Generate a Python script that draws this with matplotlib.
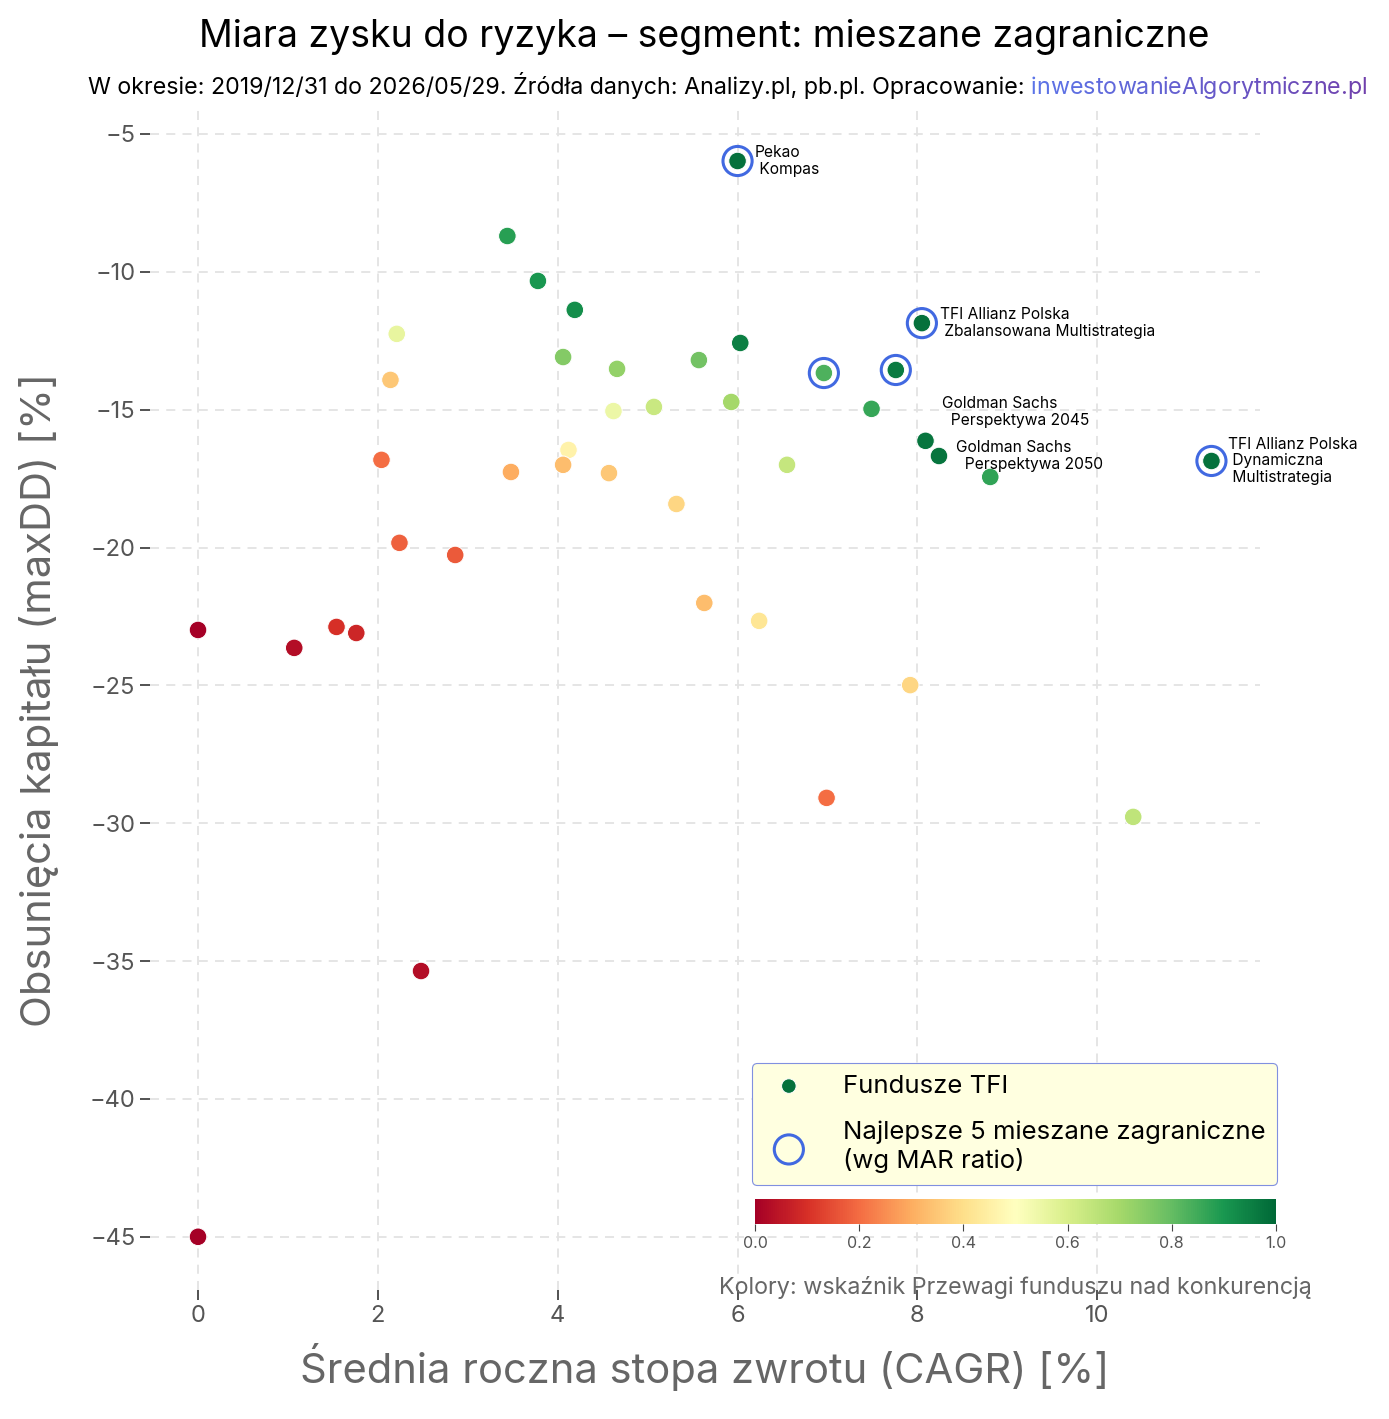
import numpy as np
import matplotlib
matplotlib.use("Agg")
import matplotlib.pyplot as plt
from matplotlib.colors import to_rgb

plt.rcParams['font.family'] = ['Inter', 'DejaVu Sans']

# CAGR [%], maxDD [%], wskaznik przewagi (0..1)
cagr = [6.00, 3.44, 3.78, 4.19, 2.21, 4.06, 4.66, 5.57, 6.03, 8.05,
        6.96, 7.76, 2.14, 4.62, 5.07, 5.93, 7.49, 8.09, 8.24, 8.81,
        11.27, 2.04, 4.12, 3.48, 4.06, 4.57, 5.32, 6.55, 2.24, 2.86,
        0.00, 1.07, 1.54, 1.76, 5.63, 6.24, 7.92, 6.99, 10.40, 2.48,
        0.00]
maxdd = [-5.98, -8.70, -10.33, -11.38, -12.25, -13.09, -13.52, -13.20, -12.58, -11.86,
         -13.67, -13.56, -13.92, -15.05, -14.90, -14.72, -14.97, -16.13, -16.68, -17.44,
         -16.86, -16.82, -16.46, -17.26, -17.00, -17.30, -18.42, -17.00, -19.83, -20.27,
         -22.99, -23.64, -22.88, -23.10, -22.01, -22.66, -24.99, -29.08, -29.77, -35.36,
         -45.00]
score = [0.98, 0.88, 0.90, 0.92, 0.56, 0.75, 0.73, 0.78, 0.95, 0.98,
         0.83, 0.96, 0.35, 0.55, 0.63, 0.70, 0.86, 0.97, 0.97, 0.87,
         0.98, 0.20, 0.46, 0.30, 0.33, 0.35, 0.38, 0.64, 0.18, 0.17,
         0.00, 0.03, 0.10, 0.08, 0.33, 0.42, 0.38, 0.20, 0.65, 0.03,
         0.00]
top5 = [0, 9, 10, 11, 20]

# opisy wybranych funduszy: indeks, tekst, przesuniecie (px)
labels = [
    (0, "Pekao\n Kompas", (17, 0)),
    (9, "TFI Allianz Polska\n Zbalansowana Multistrategia", (18, 0)),
    (17, "Goldman Sachs\n  Perspektywa 2045", (17, 29)),
    (18, "Goldman Sachs\n  Perspektywa 2050", (17, 0)),
    (20, "TFI Allianz Polska\n Dynamiczna\n Multistrategia", (17, 0)),
]

W, H = 1389, 1419
fig = plt.figure(figsize=(W / 100, H / 100), dpi=100)
ax = fig.add_axes([150 / W, 1 - 1290 / H, 1110 / W, 1180 / H])

sc = ax.scatter(cagr, maxdd, c=score, cmap='RdYlGn', vmin=0, vmax=1,
                s=160, edgecolors='white', linewidths=0.7, zorder=3,
                label='Fundusze TFI')
ax.scatter([cagr[i] for i in top5], [maxdd[i] for i in top5], s=440,
           facecolors='none', edgecolors='royalblue', linewidths=2.2,
           zorder=4, label='Najlepsze 5 mieszane zagraniczne\n(wg MAR ratio)')

for i, txt, off in labels:
    ax.annotate(txt, (cagr[i], maxdd[i]), xytext=off, textcoords='offset pixels',
                ha='left', va='center', fontsize=11.2, linespacing=1.15, zorder=5)

ax.set_xlim(-0.534, 11.81)
ax.set_ylim(-46.93, -4.13)
ax.grid(True, linestyle=(0, (5, 4)), color='#e3e3e3', linewidth=1.3)
ax.set_axisbelow(True)
for s in ax.spines.values():
    s.set_visible(False)
ax.tick_params(labelsize=17, labelcolor='#555555', color='#444444', length=7, width=1.3)
ax.set_xlabel('Średnia roczna stopa zwrotu (CAGR) [%]', fontsize=30, color='#666666', labelpad=12)
ax.set_ylabel('Obsunięcia kapitału (maxDD) [%]', fontsize=30, color='#666666', labelpad=22)

leg = ax.legend(loc='lower right', bbox_to_anchor=(1277 / W, 1 - 1185 / H),
                bbox_transform=fig.transFigure, fontsize=18.5, facecolor='#ffffe0',
                edgecolor='#8090e0', framealpha=1, fancybox=True,
                borderpad=0.45, labelspacing=0.9, handletextpad=1.1,
                handlelength=2.0, borderaxespad=0)
leg.get_frame().set_linewidth(0.8)
leg.legend_handles[0].set_color(plt.get_cmap('RdYlGn')(1.0))
leg.legend_handles[0].set_edgecolor('white')
leg.legend_handles[0].set_sizes([110])

cax = fig.add_axes([755 / W, 1 - 1224 / H, 521 / W, 25 / H])
cb = fig.colorbar(sc, cax=cax, orientation='horizontal')
cb.outline.set_visible(False)
cb.set_ticks([0, 0.2, 0.4, 0.6, 0.8, 1.0])
cax.tick_params(labelsize=11.5, labelcolor='#555555', color='#444444', length=5)
cb.set_label('Kolory: wskaźnik Przewagi funduszu nad konkurencją', fontsize=16.8,
             color='#666666', labelpad=18)

fig.text(0.5 * (203 + 1206) / W, 1 - 37 / H, 'Miara zysku do ryzyka – segment: mieszane zagraniczne',
         ha='center', va='center', fontsize=27)

# podtytul z gradientowym linkiem
sub_size = 16.75
prev = fig.text(88 / W, 1 - 99 / H,
                'W okresie: 2019/12/31 do 2026/05/29. Źródła danych: Analizy.pl, pb.pl. Opracowanie: ',
                ha='left', va='bottom', fontsize=sub_size)
link = 'inwestowanieAlgorytmiczne.pl'
c0, c1 = np.array(to_rgb('#5b74e8')), np.array(to_rgb('#7040ac'))
for k, ch in enumerate(link):
    t = k / (len(link) - 1)
    prev = ax.annotate(ch, xy=(1, 0), xycoords=prev, ha='left', va='bottom',
                       fontsize=sub_size, color=tuple(c0 + (c1 - c0) * t),
                       annotation_clip=False)

fig.savefig('out.png', dpi=100)
